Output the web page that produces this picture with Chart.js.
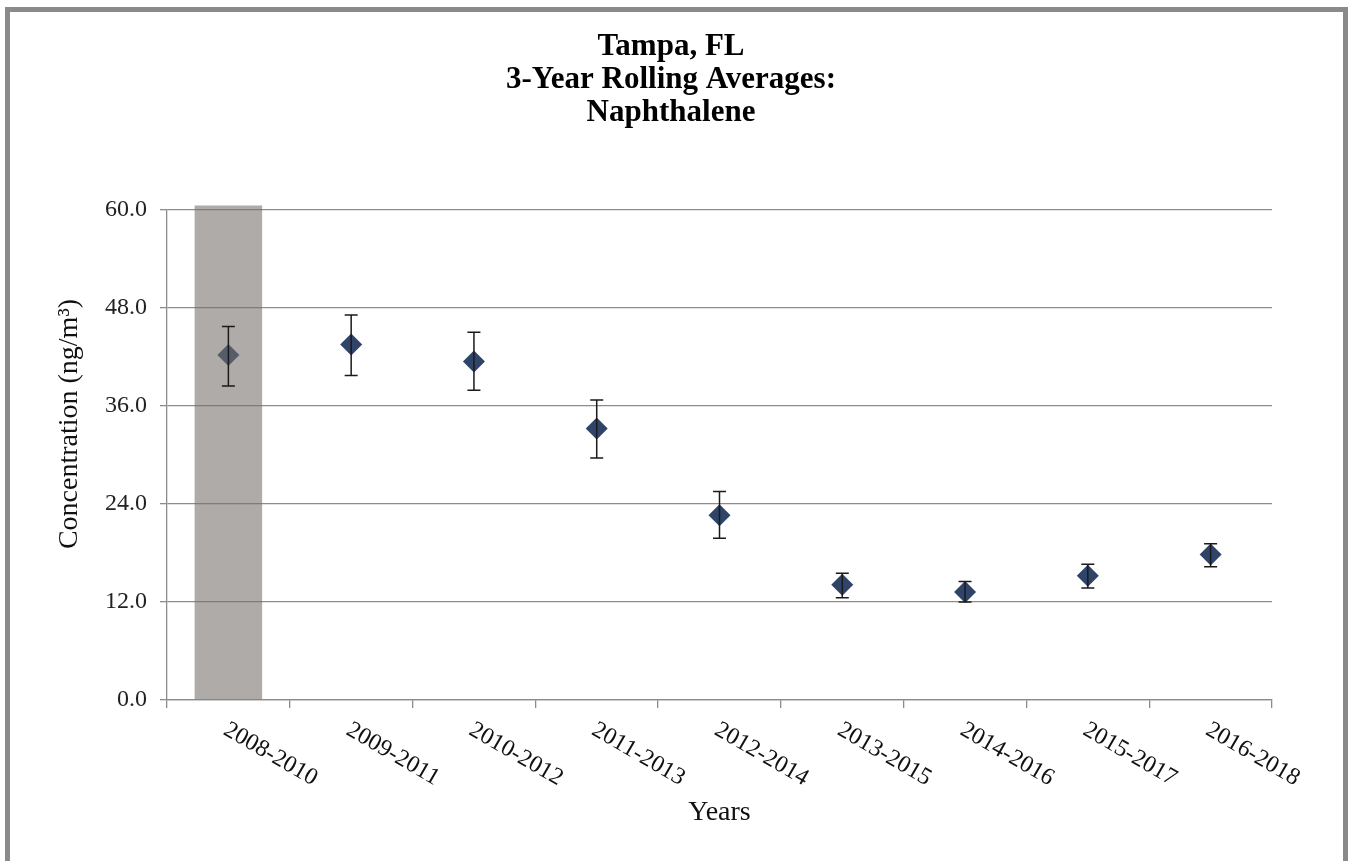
<!DOCTYPE html>
<html>
<head>
<meta charset="utf-8">
<script src="https://cdn.jsdelivr.net/npm/chart.js@4.4.1/dist/chart.umd.min.js"></script>
<style>
  html, body { margin: 0; padding: 0; background: #ffffff; overflow: hidden; }
  #frame { position: absolute; left: 5px; top: 7px; width: 1343px; height: 900px; box-sizing: border-box; border: 5px solid #8a8a8a; background: #ffffff; }
  #wrap { position: absolute; left: 0; top: 0; width: 1349px; height: 861px; }
</style>
</head>
<body>
<div id="frame"></div>
<div id="wrap"><canvas id="c"></canvas></div>
<script>
// ---- data ----
const categories = ['2008-2010','2009-2011','2010-2012','2011-2013','2012-2014','2013-2015','2014-2016','2015-2017','2016-2018'];
const averages   = [42.2, 43.5, 41.4, 33.2, 22.6, 14.1, 13.2, 15.2, 17.8];
const upperBound = [45.7, 47.1, 45.0, 36.7, 25.5, 15.5, 14.5, 16.6, 19.1];
const lowerBound = [38.4, 39.7, 37.9, 29.6, 19.8, 12.5, 12.0, 13.7, 16.3];
const shadedPeriod = [60.5, null, null, null, null, null, null, null, null];
const yTicks = [0, 12, 24, 36, 48, 60];
const titleLines = ['Tampa, FL', '3-Year Rolling Averages:', 'Naphthalene'];
const yTitle = 'Concentration (ng/m\u00B3)';
const xTitle = 'Years';

const SERIF = '"Liberation Serif", "Times New Roman", serif';
const pointColor = '#2f4468';

const errorBars = {
  id: 'errorBars',
  afterDatasetsDraw(chart) {
    const {ctx, scales: {x, y}} = chart;
    ctx.save();
    ctx.strokeStyle = '#1a1a1a';
    ctx.lineWidth = 1.5;
    for (let i = 0; i < averages.length; i++) {
      const px = x.getPixelForValue(i);
      const top = y.getPixelForValue(upperBound[i]);
      const bot = y.getPixelForValue(lowerBound[i]);
      ctx.beginPath();
      ctx.moveTo(px, top); ctx.lineTo(px, bot);
      ctx.moveTo(px - 6.5, top); ctx.lineTo(px + 6.5, top);
      ctx.moveTo(px - 6.5, bot); ctx.lineTo(px + 6.5, bot);
      ctx.stroke();
    }
    ctx.restore();
  }
};

const extraText = {
  id: 'extraText',
  afterDraw(chart) {
    const {ctx, scales: {x}} = chart;
    ctx.save();
    ctx.fillStyle = '#111';
    ctx.font = '24px ' + SERIF;
    ctx.textAlign = 'left';
    ctx.textBaseline = 'top';
    categories.forEach((lab, i) => {
      const px = x.getPixelForValue(i);
      ctx.save();
      ctx.translate(px + 3, 718);
      ctx.rotate(Math.PI / 6);
      ctx.fillText(lab, 0, 0);
      ctx.restore();
    });
    ctx.font = '28px ' + SERIF;
    ctx.textAlign = 'center';
    ctx.textBaseline = 'middle';
    ctx.translate(70, 424);
    ctx.rotate(-Math.PI / 2);
    ctx.fillText(yTitle, 0, 0);
    ctx.restore();
  }
};

new Chart(document.getElementById('c'), {
  type: 'bar',
  data: {
    labels: categories,
    datasets: [
      {
        type: 'bar',
        label: 'Shaded period',
        data: shadedPeriod,
        backgroundColor: 'rgba(118,110,106,0.58)',
        borderWidth: 0,
        barPercentage: 0.55,
        categoryPercentage: 1.0,
        clip: false
      },
      {
        type: 'line',
        label: 'Naphthalene',
        data: averages,
        showLine: false,
        pointStyle: 'rectRot',
        pointRadius: 11,
        pointBorderWidth: 0,
        pointBackgroundColor: pointColor,
        pointBorderColor: pointColor
      }
    ]
  },
  options: {
    responsive: true,
    maintainAspectRatio: false,
    animation: false,
    layout: { padding: { left: 70, right: 77, top: 0, bottom: 0 } },
    plugins: {
      legend: { display: false },
      tooltip: { enabled: false },
      title: {
        display: true,
        text: titleLines,
        color: '#000',
        font: { family: SERIF, size: 31, weight: 'bold', lineHeight: 1.07 },
        padding: { top: 30.5, bottom: 79.5 }
      }
    },
    scales: {
      x: {
        offset: true,
        grid: { display: true, drawOnChartArea: false, drawTicks: true, tickLength: 8, offset: true, color: '#8c8c8c', lineWidth: 1.3 },
        border: { display: true, color: '#8c8c8c', width: 1.3 },
        ticks: { display: false, autoSkip: false },
        title: { display: true, text: xTitle, color: '#111', font: { family: SERIF, size: 28 }, padding: { top: 32, bottom: 32 } },
        afterFit(scale) { scale.height = 161; }
      },
      y: {
        min: 0, max: 60,
        afterBuildTicks(scale) { scale.ticks = yTicks.map(v => ({ value: v })); },
        grid: { color: '#8c8c8c', lineWidth: 1.3, tickLength: 7, drawTicks: true },
        border: { display: true, color: '#8c8c8c', width: 1.3 },
        ticks: {
          color: '#222', padding: 13,
          font: { family: SERIF, size: 24 },
          callback: (v) => Number(v).toFixed(1)
        },
        afterFit(scale) { scale.width = 97; }
      }
    }
  },
  plugins: [errorBars, extraText]
});
</script>
</body>
</html>
